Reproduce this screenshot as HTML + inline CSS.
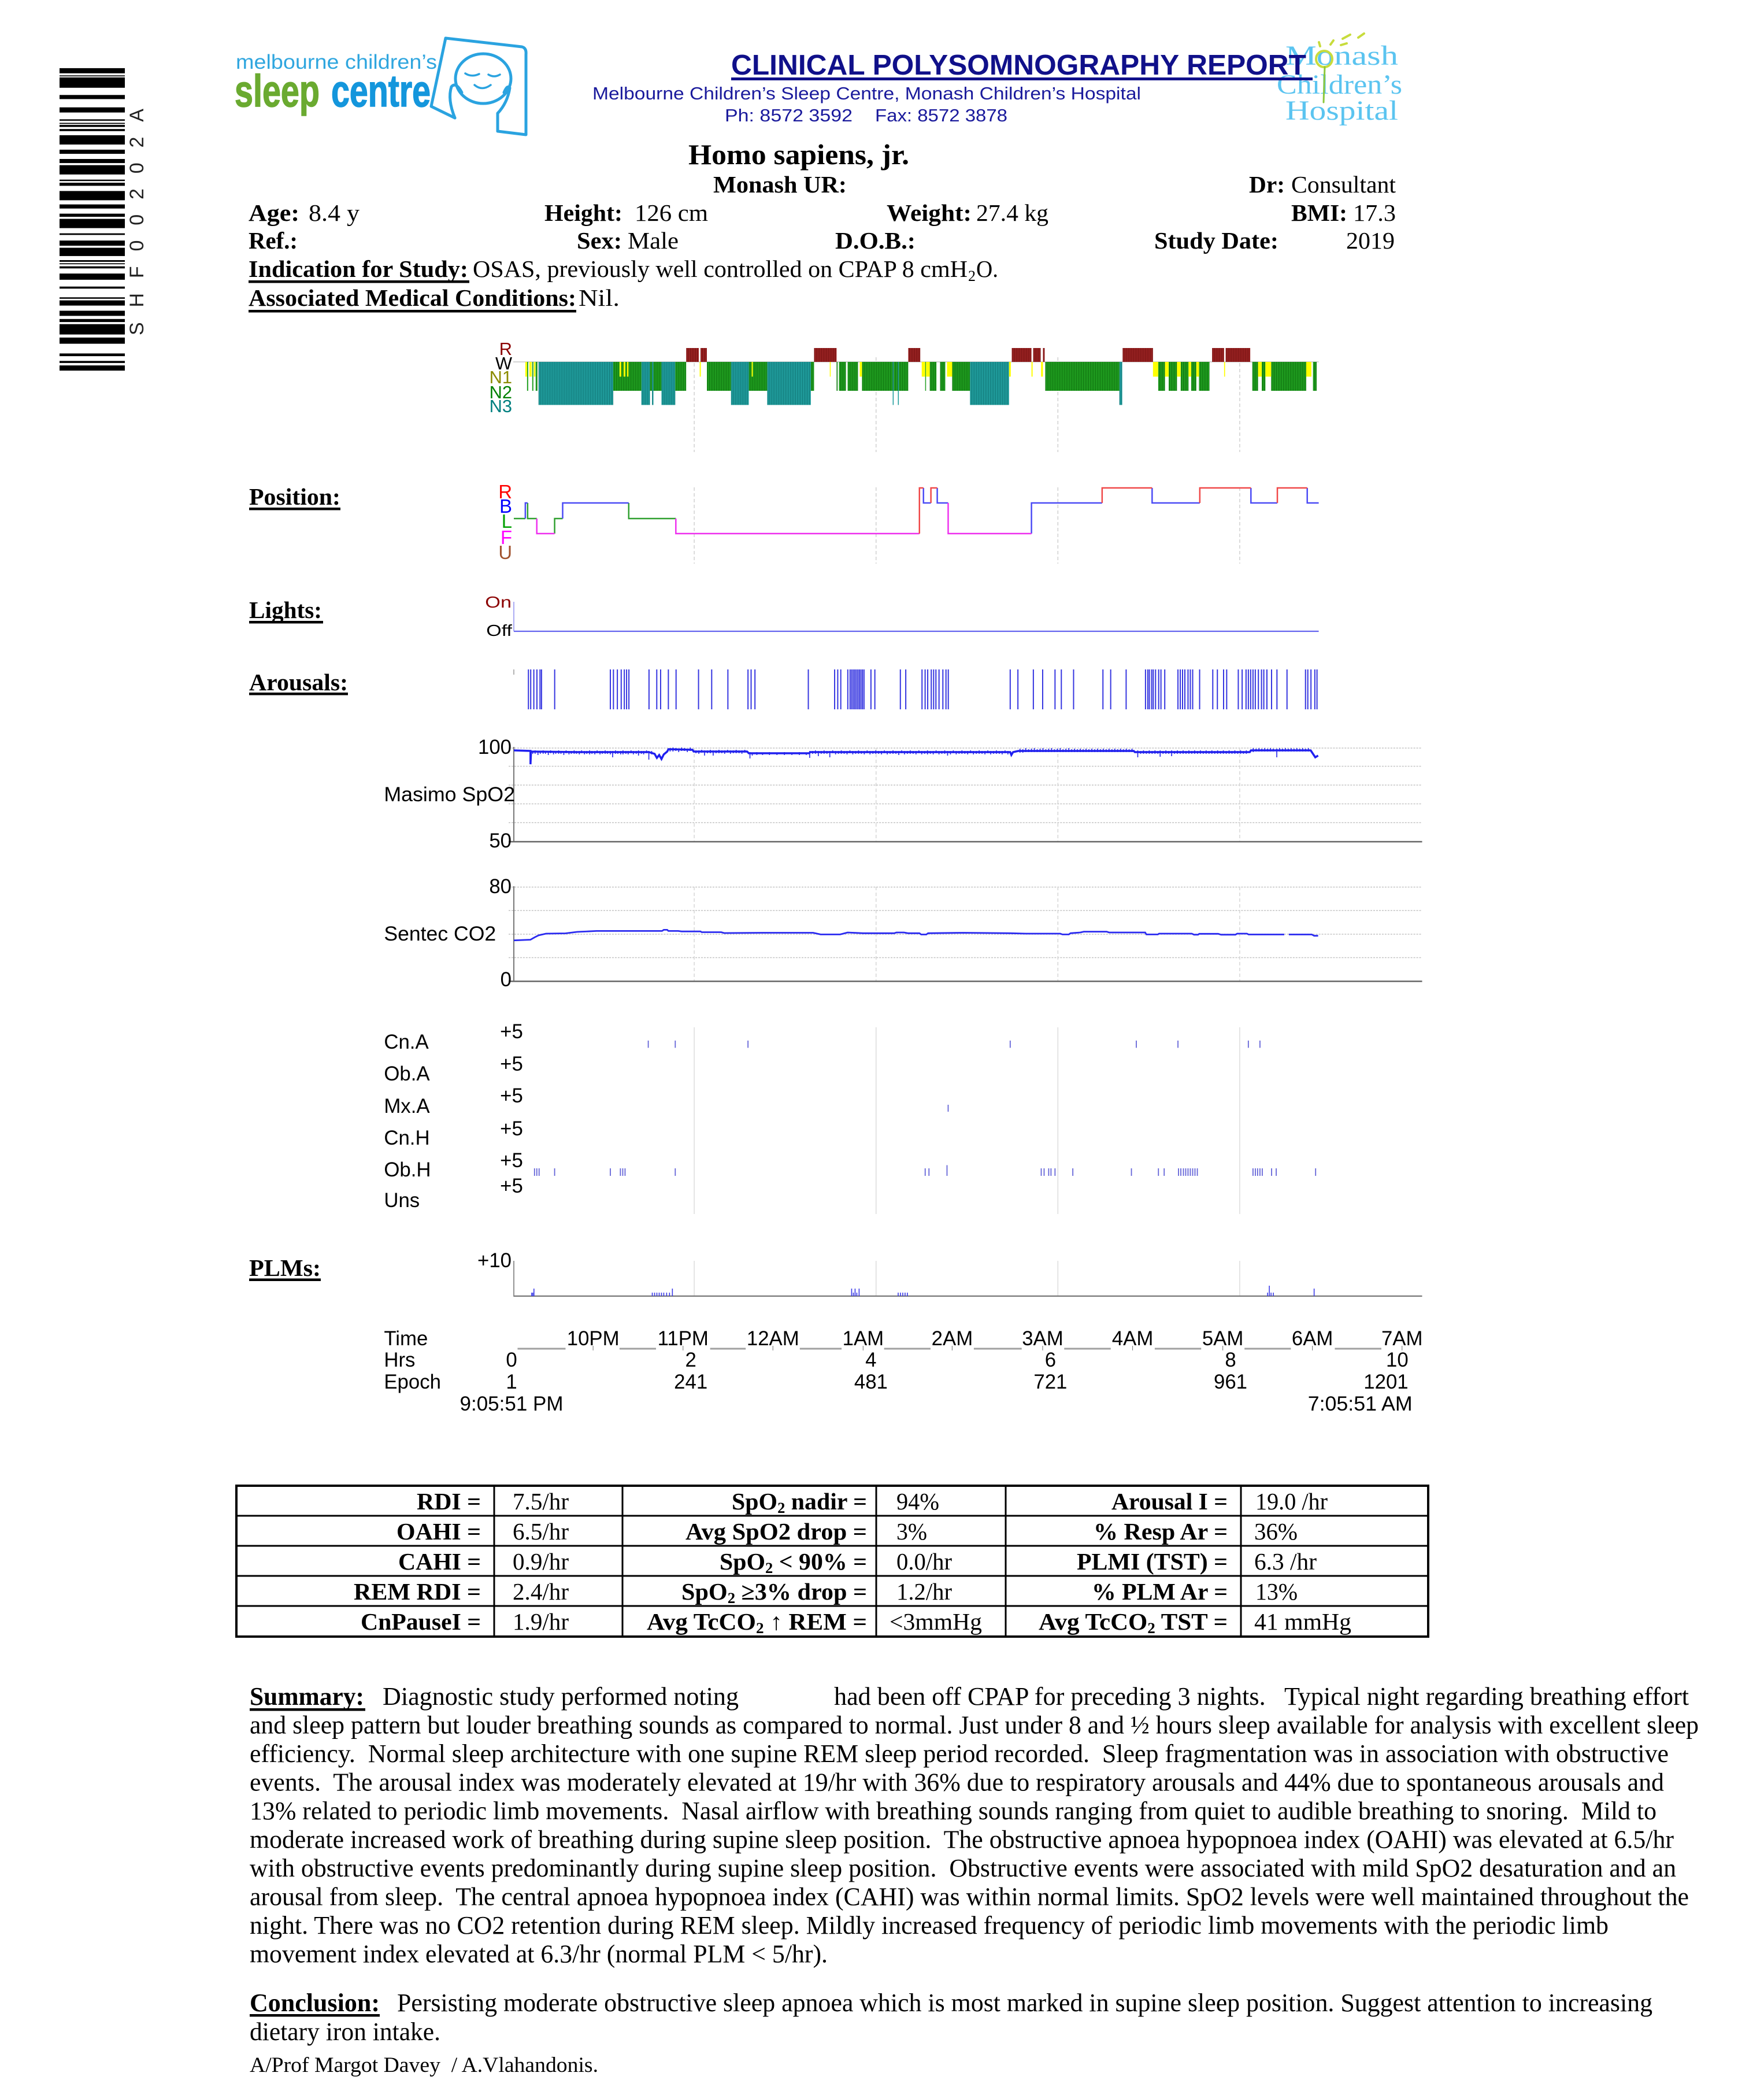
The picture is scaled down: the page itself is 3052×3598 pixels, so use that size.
<!DOCTYPE html>
<html><head><meta charset="utf-8"><title>Clinical Polysomnography Report</title>
<style>
html,body{margin:0;padding:0;background:#fff;}
svg{display:block;}
.s{font-family:"Liberation Sans",Arial,sans-serif;}
.t{font-family:"Liberation Serif","Times New Roman",serif;}
.b{font-weight:bold;}
.pre{white-space:pre;}
</style></head>
<body>
<svg xmlns="http://www.w3.org/2000/svg" width="3052" height="3598" viewBox="0 0 3052 3598">
<defs>
<pattern id="pN3" width="3" height="10" patternUnits="userSpaceOnUse"><rect width="3" height="10" fill="#22a0a0"/><rect x="2" width="1" height="10" fill="#0e7272"/></pattern>
<pattern id="pN2" width="3" height="10" patternUnits="userSpaceOnUse"><rect width="3" height="10" fill="#22a222"/><rect x="2" width="1" height="10" fill="#0b6a0b"/></pattern>
<pattern id="pR" width="3" height="10" patternUnits="userSpaceOnUse"><rect width="3" height="10" fill="#9c2424"/><rect x="2" width="1" height="10" fill="#6e0e0e"/></pattern>
</defs>
<rect width="3052" height="3598" fill="#fff"/>

<!-- Barcode -->
<g fill="#000">
<rect x="103" y="117.9" width="113" height="8.9"/><rect x="103" y="130.4" width="113" height="1.7"/><rect x="103" y="133.9" width="113" height="17.9"/>
<rect x="103" y="164.3" width="113" height="7.1"/><rect x="103" y="185.7" width="113" height="8.9"/><rect x="103" y="206.4" width="113" height="2.5"/>
<rect x="103" y="212.5" width="113" height="1.8"/><rect x="103" y="216.1" width="113" height="3.5"/><rect x="103" y="223.2" width="113" height="3.6"/>
<rect x="103" y="233.9" width="113" height="16.1"/><rect x="103" y="258.9" width="113" height="7.2"/><rect x="103" y="275" width="113" height="7.1"/>
<rect x="103" y="285.7" width="113" height="16.1"/><rect x="103" y="310.7" width="113" height="2.5"/><rect x="103" y="316.1" width="113" height="5.3"/>
<rect x="103" y="330.4" width="113" height="16"/><rect x="103" y="353.6" width="113" height="7.1"/><rect x="103" y="369.6" width="113" height="5.4"/>
<rect x="103" y="378.6" width="113" height="16"/><rect x="103" y="403.6" width="113" height="2.8"/><rect x="103" y="416.1" width="113" height="8.9"/>
<rect x="103" y="428.6" width="113" height="14.3"/><rect x="103" y="450" width="113" height="2.9"/><rect x="103" y="455.4" width="113" height="1.7"/>
<rect x="103" y="460.7" width="113" height="3.6"/><rect x="103" y="473.2" width="113" height="10.7"/><rect x="103" y="495.7" width="113" height="3.6"/>
<rect x="103" y="514.3" width="113" height="2.5"/><rect x="103" y="519.6" width="113" height="9"/><rect x="103" y="537.5" width="113" height="8.9"/>
<rect x="103" y="551.8" width="113" height="5.3"/><rect x="103" y="560.7" width="113" height="17.9"/><rect x="103" y="583.9" width="113" height="10.7"/>
<rect x="103" y="611.4" width="113" height="4.7"/><rect x="103" y="624.3" width="113" height="3.6"/><rect x="103" y="632.1" width="113" height="9"/>
</g>
<text class="s" font-size="34" fill="#222" transform="translate(248,580) rotate(-90)" textLength="392" lengthAdjust="spacing">SHF00202A</text>

<!-- Left logo -->
<text class="s" font-size="35" fill="#2fa6df" x="408" y="119" textLength="348" lengthAdjust="spacingAndGlyphs">melbourne children’s</text>
<text class="s b" font-size="78" fill="#6aaa30" stroke="#6aaa30" stroke-width="1.5" x="406" y="184" textLength="147" lengthAdjust="spacingAndGlyphs">sleep</text>
<text class="s b" font-size="78" fill="#1496dc" stroke="#1496dc" stroke-width="1.5" x="573" y="184" textLength="172" lengthAdjust="spacingAndGlyphs">centre</text>
<g fill="none" stroke="#2aa3e0" stroke-width="5" stroke-linecap="round" stroke-linejoin="round">
<path d="M787,204 L746,184 L771,66 L903,81 Q911,83 910,94 L910,233 L861,227 L861,196"/>
<ellipse cx="836" cy="136" rx="48" ry="43"/>
<path d="M787,204 Q774,172 781,150 Q789,141 799,160"/>
<path d="M861,196 Q878,178 882,152 Q878,146 872,160"/>
<path d="M805,127 Q816,134 829,128" stroke-width="3.5"/>
<path d="M845,129 Q855,135 865,129" stroke-width="3.5"/>
<path d="M821,147 Q834,158 849,147" stroke-width="3.5"/>
</g>

<!-- Monash logo -->
<g class="t" fill="#5bc4f0" font-size="48">
<text x="2224" y="112" textLength="195" lengthAdjust="spacingAndGlyphs">Monash</text>
<text x="2209" y="162" textLength="217" lengthAdjust="spacingAndGlyphs">Children’s</text>
<text x="2224" y="207" textLength="195" lengthAdjust="spacingAndGlyphs">Hospital</text>
</g>
<g stroke-linecap="round">
<circle cx="2291" cy="102" r="14" fill="none" stroke="#c8dc3c" stroke-width="4"/>
<line x1="2292" y1="116" x2="2290" y2="177" stroke="#8cc83c" stroke-width="3"/>
<line x1="2282" y1="73" x2="2284" y2="80" stroke="#c8dc3c" stroke-width="4"/>
<line x1="2302" y1="77" x2="2307" y2="70" stroke="#c8dc3c" stroke-width="4"/>
<line x1="2323" y1="67" x2="2336" y2="60" stroke="#c8dc3c" stroke-width="4"/>
<line x1="2350" y1="65" x2="2360" y2="58" stroke="#c8dc3c" stroke-width="4"/>
<line x1="2320" y1="78" x2="2330" y2="75" stroke="#c8dc3c" stroke-width="4"/>
</g>

<!-- Title -->
<text class="s b" font-size="49" fill="#10108a" x="1265" y="129" textLength="995" lengthAdjust="spacingAndGlyphs">CLINICAL POLYSOMNOGRAPHY REPORT</text>
<rect x="1265" y="134" width="1006" height="5" fill="#10108a"/>
<text class="s" font-size="31" fill="#1a1a9c" x="1025" y="172" textLength="949" lengthAdjust="spacingAndGlyphs">Melbourne Children’s Sleep Centre, Monash Children’s Hospital</text>
<text class="s" font-size="31" fill="#1a1a9c" x="1254" y="210" textLength="221" lengthAdjust="spacingAndGlyphs">Ph: 8572 3592</text>
<text class="s" font-size="31" fill="#1a1a9c" x="1514" y="210" textLength="229" lengthAdjust="spacingAndGlyphs">Fax: 8572 3878</text>

<!-- Patient header -->
<g class="t" fill="#000">
<text class="b" font-size="50" x="1191" y="284" textLength="382" lengthAdjust="spacingAndGlyphs">Homo sapiens, jr.</text>
<text class="b" font-size="41" x="1234" y="333" textLength="231" lengthAdjust="spacingAndGlyphs">Monash UR:</text>
<text class="b" font-size="41" x="2161" y="333" textLength="62" lengthAdjust="spacingAndGlyphs">Dr:</text>
<text font-size="41" x="2234" y="333" textLength="181" lengthAdjust="spacingAndGlyphs">Consultant</text>

<text class="b" font-size="41" x="430" y="382" textLength="88" lengthAdjust="spacingAndGlyphs">Age:</text>
<text font-size="41" x="534" y="382" textLength="88" lengthAdjust="spacingAndGlyphs">8.4 y</text>
<text class="b" font-size="41" x="942" y="382" textLength="135" lengthAdjust="spacingAndGlyphs">Height:</text>
<text font-size="41" x="1098" y="382" textLength="127" lengthAdjust="spacingAndGlyphs">126 cm</text>
<text class="b" font-size="41" x="1534" y="382" textLength="147" lengthAdjust="spacingAndGlyphs">Weight:</text>
<text font-size="41" x="1689" y="382" textLength="125" lengthAdjust="spacingAndGlyphs">27.4 kg</text>
<text class="b" font-size="41" x="2234" y="382" textLength="97" lengthAdjust="spacingAndGlyphs">BMI:</text>
<text font-size="41" x="2341" y="382" textLength="74" lengthAdjust="spacingAndGlyphs">17.3</text>

<text class="b" font-size="41" x="430" y="430" textLength="85" lengthAdjust="spacingAndGlyphs">Ref.:</text>
<text class="b" font-size="41" x="998" y="430" textLength="78" lengthAdjust="spacingAndGlyphs">Sex:</text>
<text font-size="41" x="1086" y="430" textLength="88" lengthAdjust="spacingAndGlyphs">Male</text>
<text class="b" font-size="41" x="1445" y="430" textLength="139" lengthAdjust="spacingAndGlyphs">D.O.B.:</text>
<text class="b" font-size="41" x="1997" y="430" textLength="215" lengthAdjust="spacingAndGlyphs">Study Date:</text>
<text font-size="41" x="2329" y="430" textLength="84" lengthAdjust="spacingAndGlyphs">2019</text>

<text class="b" font-size="41" x="430" y="479" textLength="380" lengthAdjust="spacingAndGlyphs">Indication for Study:</text>
<rect x="430" y="485" width="382" height="4.5"/>
<text font-size="41" x="818" y="479" textLength="856" lengthAdjust="spacingAndGlyphs">OSAS, previously well controlled on CPAP 8 cmH</text>
<text font-size="26" x="1675" y="486">2</text>
<text font-size="41" x="1689" y="479" textLength="38" lengthAdjust="spacingAndGlyphs">O.</text>

<text class="b" font-size="41" x="430" y="529" textLength="567" lengthAdjust="spacingAndGlyphs">Associated Medical Conditions:</text>
<rect x="430" y="536" width="567" height="4.5"/>
<text font-size="41" x="1001" y="529" textLength="71" lengthAdjust="spacingAndGlyphs">Nil.</text>
</g>

<!-- Section titles -->
<g class="t b" font-size="41" fill="#000">
<text x="431" y="873" textLength="158" lengthAdjust="spacingAndGlyphs">Position:</text>
<text x="431" y="1069" textLength="126" lengthAdjust="spacingAndGlyphs">Lights:</text>
<text x="431" y="1194" textLength="171" lengthAdjust="spacingAndGlyphs">Arousals:</text>
<text x="431" y="2207" textLength="124" lengthAdjust="spacingAndGlyphs">PLMs:</text>
</g>
<g fill="#000">
<rect x="431" y="878" width="158" height="4.5"/>
<rect x="431" y="1074" width="128" height="4.5"/>
<rect x="431" y="1198" width="171" height="4.5"/>
<rect x="431" y="2211.5" width="124" height="4.5"/>
</g>

<!-- ===== Charts (slightly compressed horizontally about x=889) ===== -->
<g transform="matrix(0.994 0 0 1 5.334 0)">

<!-- Hypnogram -->
<g class="s" font-size="31" text-anchor="end">
<text x="886" y="614" fill="#8b0000">R</text>
<text x="886" y="639" fill="#000">W</text>
<text x="886" y="663" fill="#8b8b00">N1</text>
<text x="886" y="689" fill="#008000">N2</text>
<text x="886" y="713" fill="#008080">N3</text>
</g>
<g stroke="#d0d0d0" stroke-width="1.5" stroke-dasharray="6,4">
<line x1="1203" y1="618" x2="1203" y2="782"/><line x1="1519.5" y1="618" x2="1519.5" y2="782"/>
<line x1="1836" y1="618" x2="1836" y2="782"/><line x1="2152.5" y1="618" x2="2152.5" y2="782"/>
</g>
<line x1="888" y1="626" x2="2290" y2="626" stroke="#d4d4d4" stroke-width="2"/>
<g>
<g fill="url(#pN3)">
<rect x="932" y="626" width="130" height="74.5"/>
<rect x="1111" y="626" width="15" height="74.5"/>
<rect x="1129.5" y="626" width="2.5" height="74.5"/>
<rect x="1146" y="626" width="24" height="74.5"/>
<rect x="1267" y="626" width="31" height="74.5"/>
<rect x="1330" y="626" width="76" height="74.5"/>
<rect x="1548.5" y="626" width="1.6" height="74.5"/>
<rect x="1557.5" y="626" width="1.6" height="74.5"/>
<rect x="1683" y="626" width="68" height="74.5"/>
<rect x="1943" y="626" width="5" height="74.5"/>
</g>
<g fill="url(#pN2)">
<rect x="912" y="626" width="2" height="50"/>
<rect x="921" y="626" width="2" height="50"/>
<rect x="927" y="626" width="3" height="50"/>
<rect x="1062" y="626" width="49" height="50"/>
<rect x="1126" y="626" width="3.5" height="50"/>
<rect x="1132" y="626" width="14" height="50"/>
<rect x="1170" y="626" width="19" height="50"/>
<rect x="1225" y="626" width="42" height="50"/>
<rect x="1298" y="626" width="32" height="50"/>
<rect x="1406" y="626" width="5.6" height="50"/>
<rect x="1450.8" y="626" width="1.8" height="50"/>
<rect x="1455" y="626" width="12" height="50"/>
<rect x="1470" y="626" width="18" height="50"/>
<rect x="1495" y="626" width="53.5" height="50"/>
<rect x="1550.1" y="626" width="7.4" height="50"/>
<rect x="1559.1" y="626" width="16.4" height="50"/>
<rect x="1605" y="626" width="1.5" height="50"/>
<rect x="1613" y="626" width="11.6" height="50"/>
<rect x="1631" y="626" width="9" height="50"/>
<rect x="1652" y="626" width="31" height="50"/>
<rect x="1814" y="626" width="129" height="50"/>
<rect x="2010.6" y="626" width="11.8" height="50"/>
<rect x="2028.8" y="626" width="14.5" height="50"/>
<rect x="2049.7" y="626" width="13.7" height="50"/>
<rect x="2068" y="626" width="9" height="50"/>
<rect x="2081.6" y="626" width="18.2" height="50"/>
<rect x="2174.4" y="626" width="10" height="50"/>
<rect x="2190.8" y="626" width="6.4" height="50"/>
<rect x="2207.2" y="626" width="61" height="50"/>
<rect x="2280" y="626" width="6.4" height="50"/>
</g>
<g fill="#ffff00">
<rect x="909" y="626" width="3" height="25.5"/>
<rect x="916" y="626" width="4" height="25.5"/>
<rect x="924" y="626" width="2.5" height="25.5"/>
<rect x="1073" y="626" width="3" height="25.5"/>
<rect x="1080" y="626" width="3" height="25.5"/>
<rect x="1086" y="626" width="2.5" height="25.5"/>
<rect x="1212.5" y="626" width="2" height="25.5"/>
<rect x="1303" y="626" width="2" height="25.5"/>
<rect x="1439" y="626" width="1.5" height="25.5"/>
<rect x="1491" y="626" width="4" height="25.5"/>
<rect x="1599" y="626" width="6" height="25.5"/>
<rect x="1606.5" y="626" width="6.5" height="25.5"/>
<rect x="1643" y="626" width="9" height="25.5"/>
<rect x="1751" y="626" width="3" height="25.5"/>
<rect x="1790" y="626" width="2" height="25.5"/>
<rect x="1806.7" y="626" width="3.3" height="25.5"/>
<rect x="2001.5" y="626" width="9.1" height="25.5"/>
<rect x="2022.4" y="626" width="6.4" height="25.5"/>
<rect x="2043.3" y="626" width="6.4" height="25.5"/>
<rect x="2063.4" y="626" width="4.6" height="25.5"/>
<rect x="2077" y="626" width="4.6" height="25.5"/>
<rect x="2125.3" y="626" width="1.7" height="25.5"/>
<rect x="2184.4" y="626" width="6.4" height="25.5"/>
<rect x="2197.2" y="626" width="10" height="25.5"/>
<rect x="2268.2" y="626" width="9.1" height="25.5"/>
</g>
<g fill="url(#pR)">
<rect x="1189" y="602" width="22" height="24"/>
<rect x="1214" y="602" width="11" height="24"/>
<rect x="1411.6" y="602" width="39.2" height="24"/>
<rect x="1575.5" y="602" width="20.9" height="24"/>
<rect x="1755.7" y="602" width="34.3" height="24"/>
<rect x="1793" y="602" width="13" height="24"/>
<rect x="1810" y="602" width="3" height="24"/>
<rect x="1948.7" y="602" width="52.8" height="24"/>
<rect x="2104.4" y="602" width="20.9" height="24"/>
<rect x="2128" y="602" width="42.8" height="24"/>
</g>
</g>

<!-- Position -->
<g class="s" font-size="33" text-anchor="end">
<text x="886" y="862" fill="#ff0000">R</text>
<text x="886" y="887" fill="#0000ff">B</text>
<text x="886" y="913" fill="#00a000">L</text>
<text x="886" y="941" fill="#ff00ff">F</text>
<text x="886" y="967" fill="#a0522d">U</text>
</g>
<g stroke="#d0d0d0" stroke-width="1.5" stroke-dasharray="6,4">
<line x1="1203" y1="843" x2="1203" y2="975"/><line x1="1519.5" y1="843" x2="1519.5" y2="975"/>
<line x1="1836" y1="843" x2="1836" y2="975"/><line x1="2152.5" y1="843" x2="2152.5" y2="975"/>
</g>
<g fill="none" stroke-width="2.5">
<path stroke="#30a030" d="M889,897H909 M913,870V897H929 M960,923V897H974 M1089,870V897H1171"/>
<path stroke="#4a4af5" d="M909,897V870H913 M974,897V870H1089 M1602,844V870H1615 M1626,844V870H1645 M1790,923V870H1913 M2000,844V870H2083 M2172,844V870H2218 M2270,844V870H2290"/>
<path stroke="#ee30ee" d="M929,897V923H960 M1171,897V923H1595 M1645,870V923H1790"/>
<path stroke="#f04848" d="M1595,923V844H1602 M1615,870V844H1626 M1913,870V844H2000 M2083,870V844H2172 M2218,870V844H2270"/>
</g>

<!-- Lights -->
<text class="s" font-size="28" x="839" y="1051" fill="#8b0000" textLength="46" lengthAdjust="spacingAndGlyphs">On</text>
<text class="s" font-size="28" x="841" y="1100" fill="#000" textLength="45" lengthAdjust="spacingAndGlyphs">Off</text>
<line x1="889" y1="1041" x2="889" y2="1092" stroke="#9090f0" stroke-width="1.5"/>
<line x1="889" y1="1092" x2="2290" y2="1092" stroke="#6464ee" stroke-width="2.2"/>

<!-- Arousals -->
<line x1="889" y1="1158" x2="889" y2="1167" stroke="#999" stroke-width="1.5"/>
<path stroke="#3535e0" stroke-width="2" fill="none" d="M914.4,1158V1227M918.4,1158V1227M923.8,1158V1227M929.2,1158V1227M934.6,1158V1227M937.2,1158V1227M960.1,1158V1227M1057,1158V1227M1062.4,1158V1227M1069.2,1158V1227M1075.9,1158V1227M1081.3,1158V1227M1085.3,1158V1227M1089.3,1158V1227M1124.3,1158V1227M1137.8,1158V1227M1144.5,1158V1227M1158,1158V1227M1171.4,1158V1227M1210.5,1158V1227M1233.4,1158V1227M1261.6,1158V1227M1296.6,1158V1227M1302,1158V1227M1308.7,1158V1227M1401.6,1158V1227M1447.4,1158V1227M1452.8,1158V1227M1458.1,1158V1227M1470.3,1158V1227M1474.3,1158V1227M1477,1158V1227M1479.7,1158V1227M1482.4,1158V1227M1485,1158V1227M1487.8,1158V1227M1490.4,1158V1227M1493.1,1158V1227M1495.8,1158V1227M1498.5,1158V1227M1510.6,1158V1227M1517.4,1158V1227M1561.8,1158V1227M1571.2,1158V1227M1599.5,1158V1227M1604.9,1158V1227M1609.4,1158V1227M1615.6,1158V1227M1619.7,1158V1227M1623.7,1158V1227M1629.1,1158V1227M1635.8,1158V1227M1641.2,1158V1227M1645.2,1158V1227M1753,1158V1227M1766.4,1158V1227M1793.3,1158V1227M1809.5,1158V1227M1831,1158V1227M1842,1158V1227M1863.3,1158V1227M1914.4,1158V1227M1927.9,1158V1227M1954.8,1158V1227M1988.5,1158V1227M1992.5,1158V1227M1995.2,1158V1227M1999.2,1158V1227M2002,1158V1227M2006,1158V1227M2011.4,1158V1227M2015.4,1158V1227M2022,1158V1227M2045,1158V1227M2049,1158V1227M2053,1158V1227M2057,1158V1227M2062.5,1158V1227M2066.5,1158V1227M2070.6,1158V1227M2082.7,1158V1227M2105.6,1158V1227M2113.6,1158V1227M2124.4,1158V1227M2129.8,1158V1227M2150,1158V1227M2156.7,1158V1227M2163.5,1158V1227M2167.5,1158V1227M2171.5,1158V1227M2175.6,1158V1227M2179.6,1158V1227M2185,1158V1227M2190.4,1158V1227M2194.4,1158V1227M2199.8,1158V1227M2207.9,1158V1227M2217.3,1158V1227M2234.8,1158V1227M2267,1158V1227M2271,1158V1227M2276.5,1158V1227M2283.2,1158V1227M2287,1158V1227"/>

<!-- SpO2 panel -->
<g stroke="#c4c4c4" stroke-width="1.5" stroke-dasharray="3,2">
<line x1="880" y1="1294" x2="2470" y2="1294"/><line x1="880" y1="1325.5" x2="2470" y2="1325.5"/>
<line x1="880" y1="1358" x2="2470" y2="1358"/><line x1="880" y1="1390.5" x2="2470" y2="1390.5"/>
<line x1="880" y1="1423" x2="2470" y2="1423"/>
</g>
<g stroke="#d6d6d6" stroke-width="1.5" stroke-dasharray="6,4">
<line x1="1203" y1="1294" x2="1203" y2="1456"/><line x1="1519.5" y1="1294" x2="1519.5" y2="1456"/>
<line x1="1836" y1="1294" x2="1836" y2="1456"/><line x1="2152.5" y1="1294" x2="2152.5" y2="1456"/>
</g>
<line x1="889" y1="1292" x2="889" y2="1457" stroke="#777" stroke-width="2"/>
<line x1="880" y1="1456" x2="2470" y2="1456" stroke="#666" stroke-width="2.5"/>
<g class="s" font-size="35" fill="#000">
<text x="885" y="1304" text-anchor="end">100</text>
<text x="885" y="1466" text-anchor="end">50</text>
<text x="663" y="1386" textLength="228" lengthAdjust="spacingAndGlyphs">Masimo SpO2</text>
</g>
<polyline fill="none" stroke="#1f1ff0" stroke-width="3.5" points="889,1298 918,1299 918,1322 919,1300 1000,1301 1060,1301 1124,1301 1134,1304 1138,1311 1142,1306 1146,1313 1150,1305 1156,1300 1158,1296 1200,1297 1202,1300 1295,1300 1298,1303 1403,1303 1405,1301 1753,1301 1755,1306 1758,1301 1767,1299 1968,1299 1970,1301 2170,1301 2172,1298 2276,1298 2280,1304 2284,1310 2289,1307"/>
<path fill="none" stroke="#2323e8" stroke-width="1.6" d="M922 1299v5M926 1298v6M931 1299v7M935 1299v5M940 1298v6M944 1299v5M949 1299v7M953 1298v5M958 1299v6M962 1299v5M967 1298v6M971 1299v5M976 1299v7M980 1298v5M985 1299v6M989 1299v5M994 1298v6M998 1299v5M1003 1299v6M1007 1298v5M1012 1299v6M1016 1299v5M1021 1298v7M1025 1299v5M1030 1299v6M1034 1298v5M1039 1299v6M1043 1299v5M1048 1298v6M1052 1299v5M1057 1299v6M1061 1299v11M1066 1298v6M1070 1299v5M1075 1299v6M1079 1298v7M1084 1299v5M1088 1299v6M1093 1298v5M1097 1299v6M1102 1299v5M1106 1298v9M1111 1299v5M1115 1299v6M1120 1298v5M1124 1299v15M1129 1299v6M1161 1294v6M1166 1293v7M1171 1294v5M1176 1295v6M1181 1293v6M1186 1294v5M1191 1295v6M1196 1293v6M1206 1298v5M1211 1298v6M1216 1297v5M1221 1298v9M1226 1298v5M1231 1297v6M1236 1298v9M1241 1298v5M1246 1297v6M1251 1298v5M1256 1298v6M1261 1297v5M1266 1298v6M1271 1298v5M1276 1297v6M1281 1298v5M1286 1298v6M1291 1297v5M1300 1301v11M1304 1302v5M1312 1301v5M1322 1302v4M1334 1301v5M1347 1302v4M1360 1301v5M1373 1302v4M1386 1301v5M1398 1302v4M1404 1299v12M1409 1299v5M1414 1298v6M1419 1299v9M1424 1299v5M1429 1298v6M1434 1299v5M1439 1299v11M1444 1298v5M1449 1299v6M1454 1299v5M1459 1298v6M1464 1299v5M1469 1299v6M1474 1298v5M1479 1299v6M1484 1299v5M1489 1298v6M1494 1299v5M1499 1299v6M1504 1298v5M1509 1299v6M1514 1299v5M1519 1298v6M1524 1299v5M1529 1299v6M1534 1298v5M1539 1299v6M1544 1299v5M1549 1298v6M1554 1299v5M1559 1299v7M1564 1298v5M1569 1299v6M1574 1299v5M1579 1298v6M1584 1299v5M1589 1299v6M1594 1298v5M1599 1299v6M1604 1299v5M1609 1298v7M1614 1299v5M1619 1299v6M1624 1298v5M1629 1299v6M1634 1299v5M1639 1298v6M1644 1299v8M1649 1299v6M1654 1298v5M1659 1299v6M1664 1299v5M1669 1298v6M1674 1299v5M1679 1299v6M1684 1298v5M1689 1299v6M1694 1299v5M1699 1298v6M1704 1299v5M1709 1299v6M1714 1298v5M1719 1299v6M1724 1299v5M1729 1298v6M1734 1299v5M1739 1299v6M1744 1298v5M1749 1299v6M1770 1295v7M1775 1296v6M1780 1294v7M1785 1296v5M1790 1295v6M1795 1294v7M1800 1296v5M1805 1295v6M1810 1294v7M1815 1296v5M1820 1295v6M1825 1294v7M1830 1296v5M1835 1295v6M1840 1294v7M1845 1296v5M1850 1295v6M1855 1294v7M1860 1296v5M1865 1295v6M1870 1296v5M1875 1295v6M1880 1296v5M1885 1295v6M1890 1296v5M1895 1295v6M1900 1296v5M1905 1295v6M1910 1296v5M1915 1295v6M1920 1296v5M1925 1295v6M1930 1296v5M1935 1295v6M1940 1296v5M1945 1295v6M1950 1296v5M1955 1295v6M1960 1296v5M1965 1295v6M1975 1298v12M1980 1299v5M1985 1298v6M1990 1299v5M1995 1298v6M2000 1299v5M2005 1298v6M2010 1299v5M2014 1298v11M2019 1299v5M2024 1298v6M2029 1299v5M2034 1298v10M2039 1299v5M2044 1298v6M2049 1299v5M2054 1298v6M2059 1299v5M2064 1298v6M2069 1299v5M2074 1298v6M2079 1299v5M2084 1298v6M2089 1299v5M2094 1298v6M2099 1299v5M2104 1298v6M2109 1299v5M2114 1298v6M2119 1299v5M2124 1298v6M2129 1299v5M2134 1298v6M2139 1299v5M2144 1298v6M2149 1299v5M2154 1298v6M2159 1299v5M2164 1298v6M2176 1294v7M2181 1295v5M2186 1294v6M2191 1295v5M2196 1294v6M2201 1295v5M2206 1294v6M2211 1295v5M2217 1295v15M2222 1294v6M2227 1295v5M2232 1294v6M2237 1295v5M2242 1294v6M2247 1295v5M2252 1294v6M2257 1295v5M2262 1294v6M2267 1295v5M2272 1294v6"/>

<!-- CO2 panel -->
<g stroke="#c4c4c4" stroke-width="1.5" stroke-dasharray="3,2">
<line x1="880" y1="1534.5" x2="2470" y2="1534.5"/><line x1="880" y1="1575" x2="2470" y2="1575"/>
<line x1="880" y1="1616" x2="2470" y2="1616"/><line x1="880" y1="1656.5" x2="2470" y2="1656.5"/>
</g>
<g stroke="#d6d6d6" stroke-width="1.5" stroke-dasharray="6,4">
<line x1="1203" y1="1534" x2="1203" y2="1697"/><line x1="1519.5" y1="1534" x2="1519.5" y2="1697"/>
<line x1="1836" y1="1534" x2="1836" y2="1697"/><line x1="2152.5" y1="1534" x2="2152.5" y2="1697"/>
</g>
<line x1="889" y1="1533" x2="889" y2="1698" stroke="#777" stroke-width="2"/>
<line x1="880" y1="1697.5" x2="2470" y2="1697.5" stroke="#666" stroke-width="2.5"/>
<g class="s" font-size="35" fill="#000">
<text x="885" y="1545" text-anchor="end">80</text>
<text x="885" y="1706" text-anchor="end">0</text>
<text x="663" y="1627" textLength="195" lengthAdjust="spacingAndGlyphs">Sentec CO2</text>
</g>
<polyline fill="none" stroke="#2a2af0" stroke-width="2.8" points="889,1626.7 918,1625.5 925,1621.5 932,1618 945,1615 979,1614.5 999,1612 1033,1610.4 1147,1610.4 1150,1608.4 1156,1608.4 1158,1610.4 1175,1610.4 1181,1611.2 1214,1611.2 1216,1612.5 1250,1612.5 1255,1614 1322,1613.5 1410,1613.5 1423,1616.4 1457,1616.4 1470,1613 1497,1614.3 1551,1614.3 1555,1613 1568,1613 1575,1614.3 1595,1614.3 1598,1616.5 1607,1616.5 1610,1614.3 1672,1613.5 1753,1614.3 1780,1615 1840,1615 1844,1616.4 1855,1616.4 1858,1614.3 1875,1613 1881,1611.6 1921,1611.6 1925,1613 1988,1613 1990,1616.4 2010,1616.4 2012,1615 2069,1615 2073,1616.8 2080,1616.8 2082,1615.3 2115,1615.3 2120,1616.8 2145,1616.8 2148,1615 2165,1615 2168,1616.5 2230,1616.5"/>
<polyline fill="none" stroke="#2a2af0" stroke-width="2.8" points="2238,1616.5 2278,1616.5 2282,1618.7 2289,1618.7"/>

<!-- Events -->
<g stroke="#dcdcdc" stroke-width="1.5">
<line x1="1203" y1="1777" x2="1203" y2="2100"/><line x1="1519.5" y1="1777" x2="1519.5" y2="2100"/>
<line x1="1836" y1="1777" x2="1836" y2="2100"/><line x1="2152.5" y1="1777" x2="2152.5" y2="2100"/>
</g>
<g class="s" font-size="35" fill="#000">
<text x="663" y="1814">Cn.A</text>
<text x="663" y="1869">Ob.A</text>
<text x="663" y="1925">Mx.A</text>
<text x="663" y="1980">Cn.H</text>
<text x="663" y="2035">Ob.H</text>
<text x="663" y="2088">Uns</text>
<text x="865" y="1796">+5</text>
<text x="865" y="1852">+5</text>
<text x="865" y="1907">+5</text>
<text x="865" y="1964">+5</text>
<text x="865" y="2019">+5</text>
<text x="865" y="2063">+5</text>
</g>
<path stroke="#6464d8" stroke-width="1.8" fill="none" d="M1123,1800V1812.5M1170,1800V1812.5M1296.6,1800V1812.5M1753,1800V1812.5M1972.5,1800V1812.5M2045,1800V1812.5M2167.5,1800V1812.5M2187.7,1800V1812.5 M1645,1911V1923 M925,2021V2034M929,2021V2034M933,2021V2034M960,2021V2034M1057,2021V2034M1074.5,2021V2034M1078.6,2021V2034M1082.6,2021V2034M1170,2021V2034M1605,2021V2034M1611.6,2021V2034M1643,2015.5V2034M1807,2021V2034M1812,2021V2034M1820,2021V2034M1824,2021V2034M1831,2021V2034M1862,2021V2034M1964,2021V2034M2011,2021V2034M2021,2021V2034M2046,2021V2034M2050,2021V2034M2054.5,2021V2034M2058.5,2021V2034M2062.5,2021V2034M2066.5,2021V2034M2070.6,2021V2034M2074.6,2021V2034M2078.7,2021V2034M2175.6,2021V2034M2179.7,2021V2034M2183.6,2021V2034M2187.7,2021V2034M2191.7,2021V2034M2208,2021V2034M2216,2021V2034M2284.6,2021V2034"/>

<!-- PLMs -->
<text class="s" font-size="35" x="885" y="2192" text-anchor="end">+10</text>
<g stroke="#dcdcdc" stroke-width="1.5">
<line x1="1203" y1="2181" x2="1203" y2="2242"/><line x1="1519.5" y1="2181" x2="1519.5" y2="2242"/>
<line x1="1836" y1="2181" x2="1836" y2="2242"/><line x1="2152.5" y1="2181" x2="2152.5" y2="2242"/>
</g>
<line x1="889" y1="2181" x2="889" y2="2243" stroke="#888" stroke-width="1.8"/>
<line x1="889" y1="2242" x2="2470" y2="2242" stroke="#777" stroke-width="2.2"/>
<path stroke="#3a3ae8" stroke-width="1.6" fill="none" d="M920,2236V2242M922,2236V2242M924,2229V2242M1130,2236V2242M1134,2236V2242M1138,2236V2242M1142,2236V2242M1146,2236V2242M1150,2236V2242M1155,2236V2242M1160,2236V2242M1165,2229V2242M1477,2229V2242M1480,2236V2242M1483,2229V2242M1486,2236V2242M1490,2229V2242M1558,2236V2242M1562,2236V2242M1566,2236V2242M1570,2236V2242M1574,2236V2242M2201,2236V2242M2204,2224V2242M2207,2236V2242M2211,2236V2242M2282,2229V2242"/>

<!-- Time axis -->
<g class="s" font-size="35" fill="#000">
<text x="663" y="2327">Time</text>
<text x="663" y="2364">Hrs</text>
<text x="663" y="2402">Epoch</text>
<g text-anchor="middle">
<text x="1027" y="2327">10PM</text>
<text x="1183.5" y="2327">11PM</text>
<text x="1340" y="2327">12AM</text>
<text x="1497" y="2327">1AM</text>
<text x="1652" y="2327">2AM</text>
<text x="1809.5" y="2327">3AM</text>
<text x="1966" y="2327">4AM</text>
<text x="2123" y="2327">5AM</text>
<text x="2279" y="2327">6AM</text>
<text x="2435" y="2327">7AM</text>
<text x="885" y="2364">0</text>
<text x="1197" y="2364">2</text>
<text x="1510.6" y="2364">4</text>
<text x="1823" y="2364">6</text>
<text x="2136.5" y="2364">8</text>
<text x="885" y="2402">1</text>
<text x="1197" y="2402">241</text>
<text x="1510.6" y="2402">481</text>
<text x="1823" y="2402">721</text>
<text x="2136.5" y="2402">961</text>
</g>
<text x="2446" y="2364" text-anchor="end">10</text>
<text x="2446" y="2402" text-anchor="end">1201</text>
<text x="795" y="2440" textLength="180" lengthAdjust="spacingAndGlyphs">9:05:51 PM</text>
<text x="2271" y="2440" textLength="182" lengthAdjust="spacingAndGlyphs">7:05:51 AM</text>
</g>
<g stroke="#a0a0a0" stroke-width="3">
<line x1="895.5" y1="2333" x2="979" y2="2333"/><line x1="1073" y1="2333" x2="1136.5" y2="2333"/>
<line x1="1230.7" y1="2333" x2="1292.6" y2="2333"/><line x1="1386.8" y1="2333" x2="1459.5" y2="2333"/>
<line x1="1533.5" y1="2333" x2="1614.3" y2="2333"/><line x1="1689.7" y1="2333" x2="1773" y2="2333"/>
<line x1="1847" y1="2333" x2="1928" y2="2333"/><line x1="2004.6" y1="2333" x2="2085.4" y2="2333"/>
<line x1="2160.8" y1="2333" x2="2241.5" y2="2333"/><line x1="2318" y1="2333" x2="2399" y2="2333"/>
</g>
<g stroke="#888" stroke-width="1.2">
<line x1="1027" y1="2328" x2="1027" y2="2336"/><line x1="1183.5" y1="2328" x2="1183.5" y2="2336"/>
<line x1="1340" y1="2328" x2="1340" y2="2336"/><line x1="1497" y1="2328" x2="1497" y2="2336"/>
<line x1="1652" y1="2328" x2="1652" y2="2336"/><line x1="1809.5" y1="2328" x2="1809.5" y2="2336"/>
<line x1="1966" y1="2328" x2="1966" y2="2336"/><line x1="2123" y1="2328" x2="2123" y2="2336"/>
<line x1="2279" y1="2328" x2="2279" y2="2336"/><line x1="2435" y1="2328" x2="2435" y2="2336"/>
</g>
</g>
<!-- ===== end charts ===== -->

<!-- Table -->
<g stroke="#000" fill="none">
<rect x="409" y="2570" width="2062" height="261" stroke-width="4"/>
<g stroke-width="3">
<line x1="409" y1="2622" x2="2471" y2="2622"/><line x1="409" y1="2674" x2="2471" y2="2674"/>
<line x1="409" y1="2726" x2="2471" y2="2726"/><line x1="409" y1="2778" x2="2471" y2="2778"/>
<line x1="855" y1="2570" x2="855" y2="2831"/><line x1="1077" y1="2570" x2="1077" y2="2831"/>
<line x1="1516" y1="2570" x2="1516" y2="2831"/><line x1="1740" y1="2570" x2="1740" y2="2831"/>
<line x1="2147" y1="2570" x2="2147" y2="2831"/>
</g>
</g>
<g class="t" font-size="41" fill="#000">
<g class="b">
<text x="721" y="2611" textLength="111" lengthAdjust="spacingAndGlyphs">RDI =</text>
<text x="686" y="2663" textLength="146" lengthAdjust="spacingAndGlyphs">OAHI =</text>
<text x="689" y="2715" textLength="143" lengthAdjust="spacingAndGlyphs">CAHI =</text>
<text x="612" y="2767" textLength="220" lengthAdjust="spacingAndGlyphs">REM RDI =</text>
<text x="624" y="2819" textLength="208" lengthAdjust="spacingAndGlyphs">CnPauseI =</text>
</g>
<text x="887" y="2611" textLength="97" lengthAdjust="spacingAndGlyphs">7.5/hr</text>
<text x="887" y="2663" textLength="97" lengthAdjust="spacingAndGlyphs">6.5/hr</text>
<text x="887" y="2715" textLength="97" lengthAdjust="spacingAndGlyphs">0.9/hr</text>
<text x="887" y="2767" textLength="97" lengthAdjust="spacingAndGlyphs">2.4/hr</text>
<text x="887" y="2819" textLength="97" lengthAdjust="spacingAndGlyphs">1.9/hr</text>
<g class="b">
<text x="1266" y="2611" textLength="234" lengthAdjust="spacingAndGlyphs">SpO<tspan font-size="26" dy="6">2</tspan><tspan dy="-6"> nadir =</tspan></text>
<text x="1186" y="2663" textLength="314" lengthAdjust="spacingAndGlyphs">Avg SpO2 drop =</text>
<text x="1245" y="2715" textLength="255" lengthAdjust="spacingAndGlyphs">SpO<tspan font-size="26" dy="6">2</tspan><tspan dy="-6"> &lt; 90% =</tspan></text>
<text x="1179" y="2767" textLength="321" lengthAdjust="spacingAndGlyphs">SpO<tspan font-size="26" dy="6">2</tspan><tspan dy="-6"> ≥3% drop =</tspan></text>
<text x="1119" y="2819" textLength="381" lengthAdjust="spacingAndGlyphs">Avg TcCO<tspan font-size="26" dy="6">2</tspan><tspan dy="-6"> ↑ REM =</tspan></text>
</g>
<text x="1551" y="2611" textLength="74" lengthAdjust="spacingAndGlyphs">94%</text>
<text x="1551" y="2663" textLength="53" lengthAdjust="spacingAndGlyphs">3%</text>
<text x="1551" y="2715" textLength="96" lengthAdjust="spacingAndGlyphs">0.0/hr</text>
<text x="1551" y="2767" textLength="96" lengthAdjust="spacingAndGlyphs">1.2/hr</text>
<text x="1539" y="2819" textLength="160" lengthAdjust="spacingAndGlyphs">&lt;3mmHg</text>
<g class="b">
<text x="1923" y="2611" textLength="201" lengthAdjust="spacingAndGlyphs">Arousal I =</text>
<text x="1892" y="2663" textLength="232" lengthAdjust="spacingAndGlyphs">% Resp Ar =</text>
<text x="1863" y="2715" textLength="261" lengthAdjust="spacingAndGlyphs">PLMI (TST) =</text>
<text x="1889" y="2767" textLength="235" lengthAdjust="spacingAndGlyphs">% PLM Ar =</text>
<text x="1797" y="2819" textLength="327" lengthAdjust="spacingAndGlyphs">Avg TcCO<tspan font-size="26" dy="6">2</tspan><tspan dy="-6"> TST =</tspan></text>
</g>
<text x="2172" y="2611" textLength="125" lengthAdjust="spacingAndGlyphs">19.0 /hr</text>
<text x="2170" y="2663" textLength="75" lengthAdjust="spacingAndGlyphs">36%</text>
<text x="2170" y="2715" textLength="108" lengthAdjust="spacingAndGlyphs">6.3 /hr</text>
<text x="2172" y="2767" textLength="73" lengthAdjust="spacingAndGlyphs">13%</text>
<text x="2170" y="2819" textLength="168" lengthAdjust="spacingAndGlyphs">41 mmHg</text>
</g>

<!-- Summary -->
<g class="t" font-size="44" fill="#000">
<text class="b" x="432" y="2949" textLength="198" lengthAdjust="spacingAndGlyphs">Summary:</text>
<rect x="432" y="2955" width="200" height="4.5"/>
<text class="pre" x="662" y="2949" textLength="616" lengthAdjust="spacingAndGlyphs">Diagnostic study performed noting</text>
<text class="pre" x="1443" y="2949" textLength="1479" lengthAdjust="spacingAndGlyphs">had been off CPAP for preceding 3 nights.   Typical night regarding breathing effort</text>
<text class="pre" x="432" y="2998.5" textLength="2507" lengthAdjust="spacingAndGlyphs">and sleep pattern but louder breathing sounds as compared to normal. Just under 8 and ½ hours sleep available for analysis with excellent sleep</text>
<text class="pre" x="432" y="3048" textLength="2455" lengthAdjust="spacingAndGlyphs">efficiency.  Normal sleep architecture with one supine REM sleep period recorded.  Sleep fragmentation was in association with obstructive</text>
<text class="pre" x="432" y="3097.5" textLength="2447" lengthAdjust="spacingAndGlyphs">events.  The arousal index was moderately elevated at 19/hr with 36% due to respiratory arousals and 44% due to spontaneous arousals and</text>
<text class="pre" x="432" y="3147" textLength="2434" lengthAdjust="spacingAndGlyphs">13% related to periodic limb movements.  Nasal airflow with breathing sounds ranging from quiet to audible breathing to snoring.  Mild to</text>
<text class="pre" x="432" y="3196.5" textLength="2464" lengthAdjust="spacingAndGlyphs">moderate increased work of breathing during supine sleep position.  The obstructive apnoea hypopnoea index (OAHI) was elevated at 6.5/hr</text>
<text class="pre" x="432" y="3246" textLength="2468" lengthAdjust="spacingAndGlyphs">with obstructive events predominantly during supine sleep position.  Obstructive events were associated with mild SpO2 desaturation and an</text>
<text class="pre" x="432" y="3295.5" textLength="2490" lengthAdjust="spacingAndGlyphs">arousal from sleep.  The central apnoea hypopnoea index (CAHI) was within normal limits. SpO2 levels were well maintained throughout the</text>
<text class="pre" x="432" y="3345" textLength="2351" lengthAdjust="spacingAndGlyphs">night. There was no CO2 retention during REM sleep. Mildly increased frequency of periodic limb movements with the periodic limb</text>
<text class="pre" x="432" y="3394.5" textLength="1000" lengthAdjust="spacingAndGlyphs">movement index elevated at 6.3/hr (normal PLM &lt; 5/hr).</text>

<text class="b" x="432" y="3479" textLength="225" lengthAdjust="spacingAndGlyphs">Conclusion:</text>
<rect x="432" y="3484" width="225" height="4.5"/>
<text class="pre" x="687" y="3479" textLength="2172" lengthAdjust="spacingAndGlyphs">Persisting moderate obstructive sleep apnoea which is most marked in supine sleep position. Suggest attention to increasing</text>
<text class="pre" x="432" y="3529" textLength="330" lengthAdjust="spacingAndGlyphs">dietary iron intake.</text>
<text class="pre" x="432" y="3584" font-size="37" textLength="603" lengthAdjust="spacingAndGlyphs">A/Prof Margot Davey  / A.Vlahandonis.</text>
</g>
</svg>
</body></html>
